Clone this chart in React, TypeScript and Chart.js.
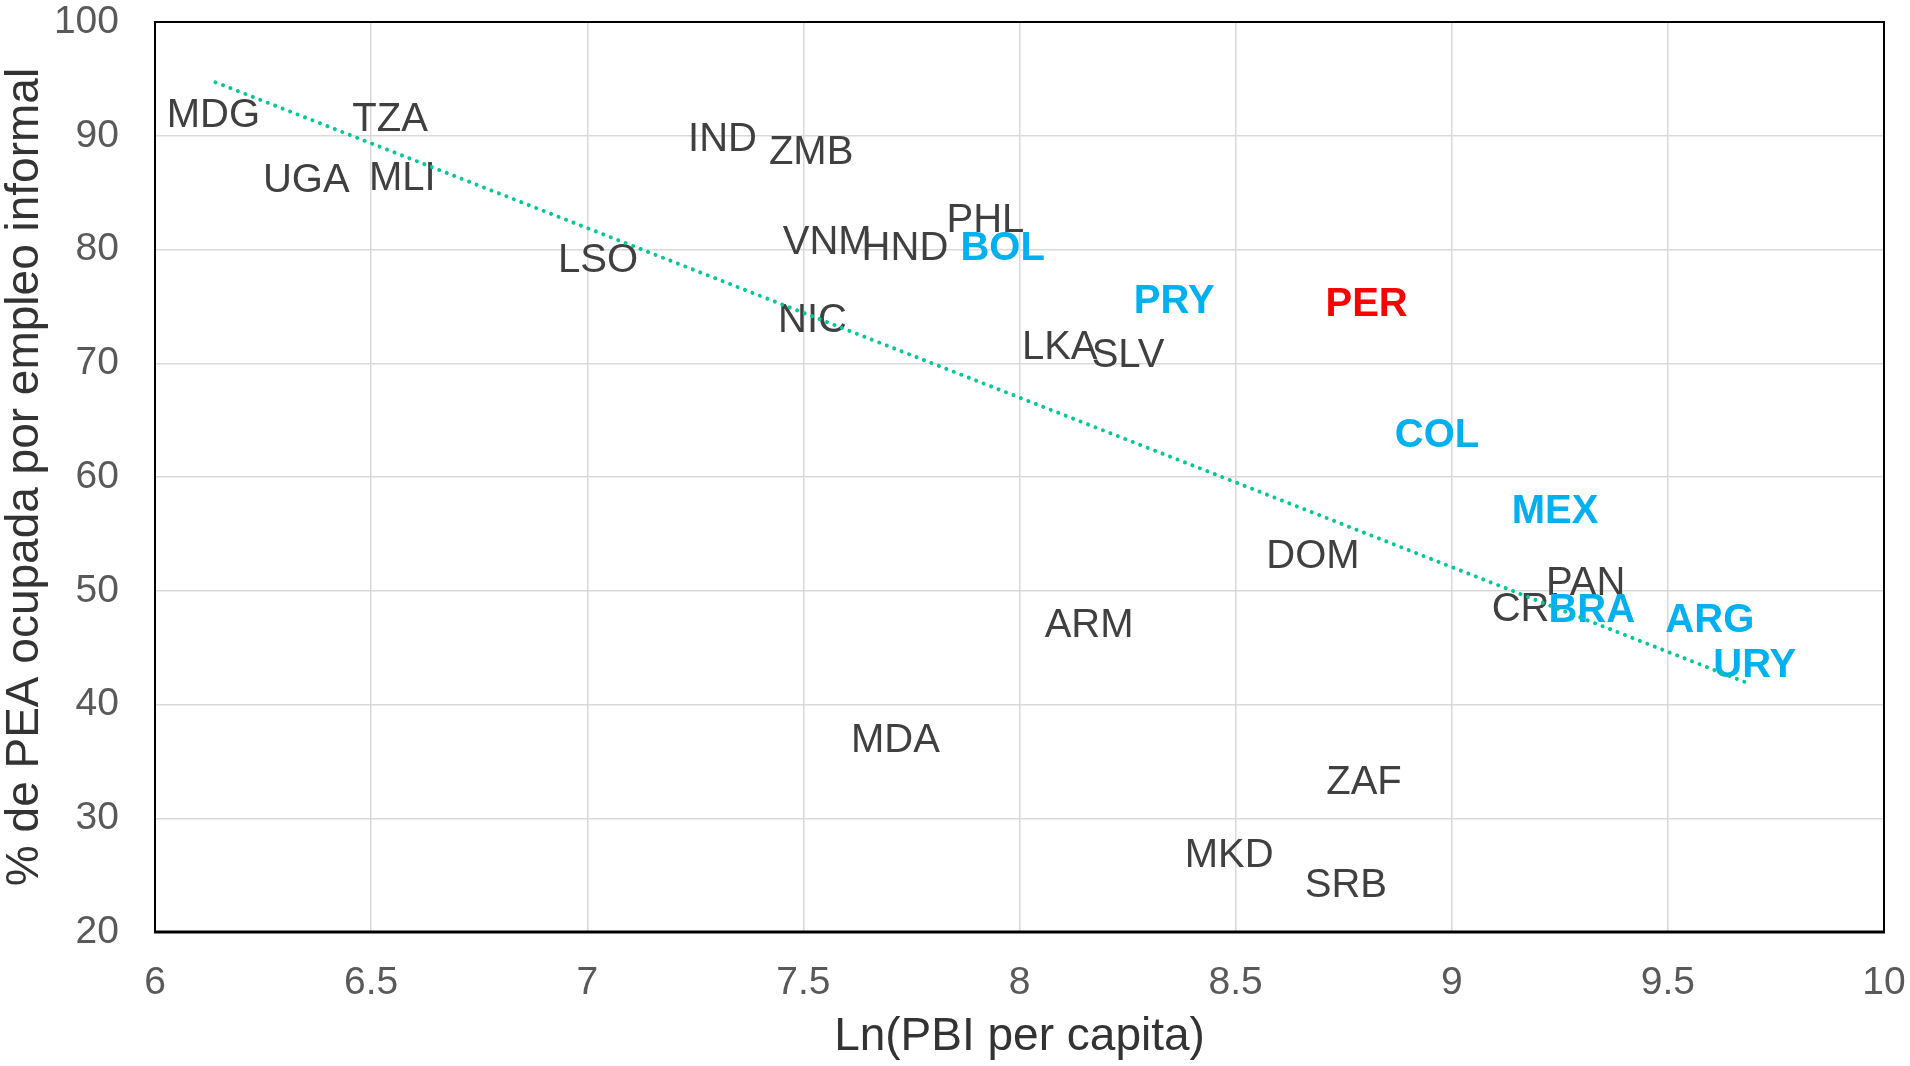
import React, { useEffect, useRef } from "react";
import { Chart, registerables } from "chart.js";

Chart.register(...registerables);

// ---- Data ----
const countries = [
  "MDG", "TZA", "UGA", "MLI", "IND", "ZMB", "LSO", "VNM", "HND", "PHL",
  "BOL", "NIC", "LKA", "SLV", "PRY", "PER", "COL", "MEX", "DOM", "PAN",
  "CRI", "BRA", "ARG", "URY", "ARM", "MDA", "ZAF", "MKD", "SRB",
];
const lnGdpPerCapita = [
  6.135, 6.544, 6.35, 6.572, 7.313, 7.518, 7.025, 7.555, 7.735, 7.921,
  7.961, 7.521, 8.093, 8.251, 8.358, 8.803, 8.966, 9.239, 8.679, 9.31,
  9.172, 9.324, 9.597, 9.701, 8.161, 7.713, 8.797, 8.485, 8.755,
];
const informalShare = [
  91.97, 91.65, 86.3, 86.5, 89.93, 88.76, 79.22, 80.83, 80.29, 82.76,
  80.29, 73.98, 71.62, 70.87, 75.69, 75.37, 63.91, 57.16, 53.2, 50.84,
  48.59, 48.49, 47.63, 43.67, 47.2, 37.03, 33.39, 26.96, 24.28,
];
const latamHighlighted = ["BOL", "PRY", "COL", "MEX", "BRA", "ARG", "URY"];
const focusCountry = ["PER"];

const trendX = [6.14, 9.69];
const trendY = [94.7, 41.8];

const xTicks = [6, 6.5, 7, 7.5, 8, 8.5, 9, 9.5, 10];
const yTicks = [20, 30, 40, 50, 60, 70, 80, 90, 100];

const FONT = '"Liberation Sans", Arial, sans-serif';

export default function App() {
  const ref = useRef<HTMLCanvasElement | null>(null);

  useEffect(() => {
    if (!ref.current) return;
    document.body.style.margin = "0";

    const labelPlugin = {
      id: "countryLabels",
      beforeDatasetsDraw(chart: any) {
        const ctx = chart.ctx;
        const xs = chart.scales.x;
        const ys = chart.scales.y;
        ctx.save();
        ctx.textAlign = "center";
        ctx.textBaseline = "middle";
        countries.forEach((c, i) => {
          const px = xs.getPixelForValue(lnGdpPerCapita[i]);
          const py = ys.getPixelForValue(informalShare[i]);
          let color = "#404040";
          let weight = "normal";
          if (latamHighlighted.includes(c)) {
            color = "#00B0F0";
            weight = "bold";
          } else if (focusCountry.includes(c)) {
            color = "#FF0000";
            weight = "bold";
          }
          ctx.font = `${weight} 40px ${FONT}`;
          ctx.fillStyle = color;
          // small offset so the cap-height centre sits on the point
          ctx.fillText(c, px, py + 3);
        });
        ctx.restore();
      },
      afterDraw(chart: any) {
        const { left, right, top, bottom } = chart.chartArea;
        const ctx = chart.ctx;
        ctx.save();
        ctx.strokeStyle = "#000";
        ctx.lineWidth = 2;
        ctx.beginPath();
        ctx.moveTo(left, bottom);
        ctx.lineTo(left, top);
        ctx.lineTo(right, top);
        ctx.lineTo(right, bottom);
        ctx.stroke();
        ctx.lineWidth = 3;
        ctx.beginPath();
        ctx.moveTo(left - 1, bottom);
        ctx.lineTo(right + 1, bottom);
        ctx.stroke();
        ctx.restore();
      },
    };

    const chart = new Chart(ref.current, {
      type: "scatter",
      data: {
        datasets: [
          {
            label: "Países",
            data: countries.map((_, i) => ({ x: lnGdpPerCapita[i], y: informalShare[i] })),
            pointRadius: 0,
            pointHoverRadius: 0,
            showLine: false,
          },
          {
            label: "Tendencia",
            data: trendX.map((x, i) => ({ x, y: trendY[i] })),
            showLine: true,
            pointRadius: 0,
            borderColor: "#00C897",
            borderWidth: 4,
            borderDash: [0.01, 8],
            borderCapStyle: "round",
            fill: false,
          } as any,
        ],
      },
      options: {
        responsive: false,
        animation: false,
        locale: "en-US",
        layout: { padding: { top: 22, right: 26, left: 0, bottom: 0 } },
        plugins: {
          legend: { display: false },
          tooltip: { enabled: false },
        },
        scales: {
          x: {
            type: "linear",
            min: 6,
            max: 10,
            afterBuildTicks: (scale: any) => {
              scale.ticks = xTicks.map((v) => ({ value: v }));
            },
            ticks: {
              color: "#595959",
              font: { size: 39, family: FONT },
              padding: 28,
              maxRotation: 0,
              callback: (v: any) => String(v),
            },
            grid: { color: "#d9d9d9", lineWidth: 1.5, drawTicks: false },
            border: { display: false },
            title: {
              display: true,
              text: "Ln(PBI per capita)",
              color: "#333333",
              font: { size: 46, family: FONT, lineHeight: 1 },
              padding: { top: 0, bottom: 6 },
            },
            afterFit: (scale: any) => {
              scale.height = 134;
              scale.paddingLeft = 0;
              scale.paddingRight = 0;
            },
          },
          y: {
            type: "linear",
            min: 20,
            max: 100,
            afterBuildTicks: (scale: any) => {
              scale.ticks = yTicks.map((v) => ({ value: v }));
            },
            ticks: {
              color: "#595959",
              font: { size: 39, family: FONT },
              padding: 36,
              callback: (v: any) => String(v),
            },
            grid: { color: "#d9d9d9", lineWidth: 1.5, drawTicks: false },
            border: { display: false },
            title: {
              display: true,
              text: "% de PEA ocupada por empleo informal",
              color: "#333333",
              font: { size: 46, family: FONT, lineHeight: 1 },
              padding: { top: 2, bottom: 0 },
            },
            afterFit: (scale: any) => {
              scale.width = 155;
              scale.paddingTop = 0;
              scale.paddingBottom = 0;
            },
          },
        },
      } as any,
      plugins: [labelPlugin],
    });

    return () => chart.destroy();
  }, []);

  return (
    <div style={{ position: "fixed", left: 0, top: 0, width: 1910, height: 1066, background: "#fff" }}>
      <canvas ref={ref} width={1910} height={1066} />
    </div>
  );
}
